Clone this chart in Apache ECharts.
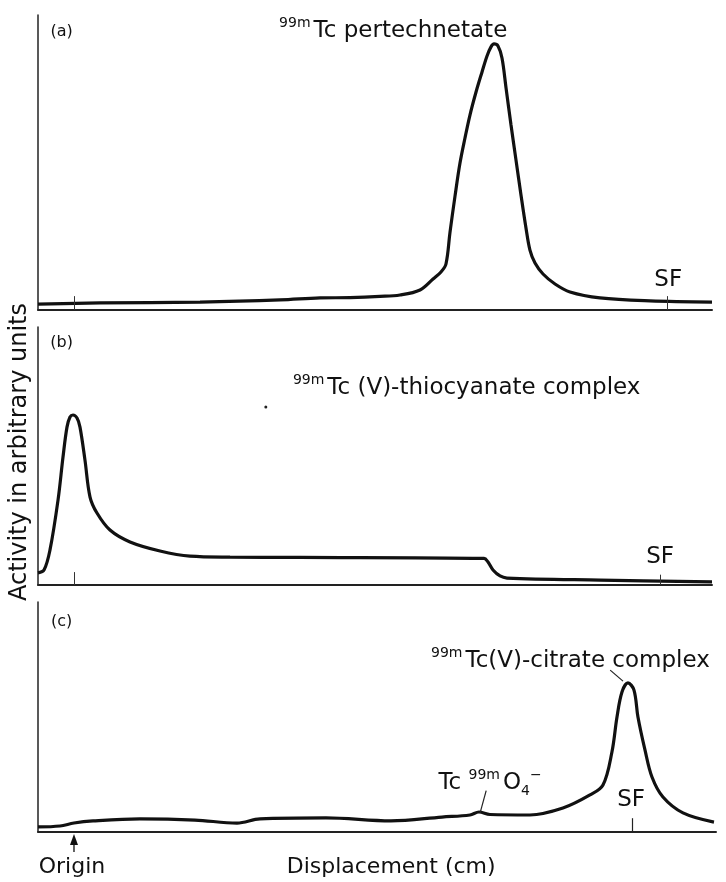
<!DOCTYPE html>
<html>
<head>
<meta charset="utf-8">
<script src="https://cdn.jsdelivr.net/npm/echarts@6/dist/echarts.min.js"></script>
<style>
html,body{margin:0;padding:0;background:#fff;}
#chart{width:726px;height:882px;}
</style>
</head>
<body>
<div id="chart"></div>
<script>
// Displacement in relative units (0 = left axis), activity in arbitrary units (0-100)
const xA = [0, 9.20, 24.04, 35.91, 41.84, 46.29, 50.74, 53.71, 56.68, 58.61, 59.79, 60.53, 61.13, 61.87, 62.61, 63.35, 64.09, 64.99, 65.88, 66.62, 67.21, 67.66, 68.25, 68.84, 69.44, 70.18, 70.92, 71.66, 72.40, 72.99, 73.74, 74.93, 76.71, 78.93, 83.38, 90.80, 100];
const yA = [2.0, 2.4, 2.7, 3.4, 4.1, 4.2, 4.6, 5.1, 6.8, 10.5, 12.9, 15.6, 26.4, 38.6, 49.8, 58.3, 66.1, 73.9, 80.7, 86.1, 89.2, 90.2, 89.5, 85.4, 75.3, 62.7, 50.8, 39.0, 27.8, 20.3, 15.9, 12.2, 8.8, 6.1, 4.1, 3.1, 2.7];

const xB = [0, 0.89, 1.78, 2.97, 3.71, 4.30, 4.75, 5.19, 5.79, 6.23, 6.97, 7.72, 8.75, 10.68, 13.65, 18.10, 22.55, 28.49, 38.87, 66.17, 66.77, 67.51, 68.55, 69.58, 83.38, 100];
const yB = [4.7, 5.8, 13.6, 32.9, 49.6, 61.2, 65.1, 65.9, 64.7, 61.2, 48.4, 34.1, 27.9, 21.3, 16.7, 13.2, 11.2, 10.8, 10.7, 10.3, 8.9, 5.8, 3.5, 2.7, 1.9, 1.2];

const xC = [0, 3.26, 5.34, 8.16, 15.13, 23.29, 29.53, 32.94, 42.73, 52.37, 59.94, 64.09, 65.43, 67.06, 72.99, 77.89, 81.90, 83.83, 85.16, 85.91, 86.65, 87.54, 88.43, 89.02, 90.06, 91.10, 92.73, 95.70, 100.30];
const yC = [2.2, 2.6, 3.9, 4.8, 5.7, 5.2, 3.9, 5.7, 6.1, 4.8, 6.5, 7.4, 8.7, 7.6, 7.4, 10.4, 16.1, 20.4, 34.8, 50.0, 60.9, 64.8, 61.7, 50.0, 35.7, 23.9, 15.2, 8.3, 4.3];

const originX = 5.34;
const sfX = [93.3, 92.3, 88.1];
const panelLetters = ['(a)', '(b)', '(c)'];

const FONT = 'DejaVu Sans';
const INK = '#111';

function pairs(xs, ys) { return xs.map((x, i) => [x, ys[i]]); }

const chart = echarts.init(document.getElementById('chart'), null, {renderer: 'canvas'});

const richStyles = {
  s: {fontSize: 14, fontFamily: FONT, color: INK, verticalAlign: 'top', lineHeight: 30, padding: [0, 3, 0, 0]},
  t: {fontSize: 23, fontFamily: FONT, color: INK, lineHeight: 30},
  sub: {fontSize: 14, fontFamily: FONT, color: INK, verticalAlign: 'bottom', lineHeight: 30}
};

function labelPoint(coord, text, extra) {
  return Object.assign({
    coord: coord, symbol: 'circle', symbolSize: 0,
    label: {show: true, position: 'inside', formatter: text, rich: richStyles, color: INK, fontFamily: FONT, fontSize: 23}
  }, extra || {});
}
function letterPoint(coord, text) {
  return {coord: coord, symbol: 'circle', symbolSize: 0,
    label: {show: true, position: 'inside', formatter: text, fontSize: 16, fontFamily: FONT, color: INK}};
}
function tick(x, h) {
  return [{coord: [x, 0]}, {coord: [x, h]}];
}

const gridDefs = [
  {left: 38, top: 15, width: 674, height: 295},
  {left: 38, top: 327, width: 674, height: 258},
  {left: 38, top: 602, width: 678, height: 230}
];
const xMax = [100, 100, 100.6];

const xAxes = gridDefs.map((g, i) => ({
  type: 'value', gridIndex: i, min: 0, max: xMax[i],
  axisLine: {show: true, onZero: false, lineStyle: {color: '#222', width: 2}},
  axisTick: {show: false}, axisLabel: {show: false}, splitLine: {show: false}
}));
const yAxes = gridDefs.map((g, i) => ({
  type: 'value', gridIndex: i, min: 0, max: 100,
  axisLine: {show: true, lineStyle: {color: '#222', width: 1.5}},
  axisTick: {show: false}, axisLabel: {show: false}, splitLine: {show: false}
}));

const lineStyle = {color: INK, width: 3.2};
const tickStyle = {color: '#333', width: 1, type: 'solid'};

const series = [
  {
    type: 'line', xAxisIndex: 0, yAxisIndex: 0, data: pairs(xA, yA),
    smooth: 0.35, showSymbol: false, symbol: 'none', lineStyle: lineStyle, silent: true,
    markLine: {silent: true, symbol: 'none', label: {show: false}, lineStyle: tickStyle, data: [tick(originX, 4.7), tick(sfX[0], 4.7)]},
    markPoint: {silent: true, data: [
      labelPoint([52.7, 94.6], '{s|99m}{t|Tc pertechnetate}'),
      labelPoint([sfX[0] + 0.2, 10.2], '{t|SF}'),
      letterPoint([3.5, 94.2], panelLetters[0])
    ]}
  },
  {
    type: 'line', xAxisIndex: 1, yAxisIndex: 1, data: pairs(xB, yB),
    smooth: 0.35, showSymbol: false, symbol: 'none', lineStyle: lineStyle, silent: true,
    markLine: {silent: true, symbol: 'none', label: {show: false}, lineStyle: tickStyle, data: [tick(originX, 5.0), tick(sfX[1], 4.0)]},
    markPoint: {silent: true, data: [
      labelPoint([63.6, 76.4], '{s|99m}{t|Tc (V)-thiocyanate complex}'),
      labelPoint([sfX[1], 10.9], '{t|SF}'),
      {coord: [33.8, 69.0], symbol: 'circle', symbolSize: 3, itemStyle: {color: '#222'}, label: {show: false}},
      letterPoint([3.5, 93.8], panelLetters[1])
    ]}
  },
  {
    type: 'line', xAxisIndex: 2, yAxisIndex: 2, data: pairs(xC, yC),
    smooth: 0.35, showSymbol: false, symbol: 'none', lineStyle: lineStyle, silent: true,
    markLine: {silent: true, symbol: 'none', label: {show: false}, lineStyle: {color: '#222', width: 1.2, type: 'solid'}, data: [
      tick(sfX[2], 6.0),
      [{coord: [84.9, 70.4]}, {coord: [86.8, 65.6]}],
      [{coord: [66.5, 18.0]}, {coord: [65.6, 8.3]}]
    ]},
    markPoint: {silent: true, data: [
      labelPoint([79.0, 74.2], '{s|99m}{t|Tc(V)-citrate complex}'),
      labelPoint([67.3, 21.3], '{t|Tc }{s|99m}{t|O}{sub|4}{s|−}'),
      labelPoint([sfX[2] - 0.1, 13.9], '{t|SF}'),
      letterPoint([3.5, 91.3], panelLetters[2])
    ]}
  }
];

chart.setOption({
  backgroundColor: '#fff',
  animation: false,
  grid: gridDefs,
  xAxis: xAxes,
  yAxis: yAxes,
  series: series
});

// Annotations positioned from the axes' own scale
const op = chart.convertToPixel({xAxisIndex: 2, yAxisIndex: 2}, [originX, 0]);
const dp = chart.convertToPixel({xAxisIndex: 2, yAxisIndex: 2}, [52.4, 0]);
chart.setOption({
  graphic: [
    {type: 'line', shape: {x1: op[0], y1: op[1] + 20, x2: op[0], y2: op[1] + 8}, style: {stroke: '#111', lineWidth: 1.3}},
    {type: 'polygon', shape: {points: [[op[0] - 4, op[1] + 13], [op[0] + 4, op[1] + 13], [op[0], op[1] + 2]]}, style: {fill: '#111'}},
    {type: 'text', x: op[0] - 2, y: op[1] + 35, style: {text: 'Origin', font: '22px "DejaVu Sans"', fill: INK, textAlign: 'center', textVerticalAlign: 'middle'}},
    {type: 'text', x: dp[0], y: dp[1] + 35, style: {text: 'Displacement (cm)', font: '22px "DejaVu Sans"', fill: INK, textAlign: 'center', textVerticalAlign: 'middle'}},
    {type: 'text', x: 20, y: 452, rotation: Math.PI / 2, style: {text: 'Activity in arbitrary units', font: '24px "DejaVu Sans"', fill: INK, textAlign: 'center', textVerticalAlign: 'middle'}}
  ]
});
</script>
</body>
</html>
